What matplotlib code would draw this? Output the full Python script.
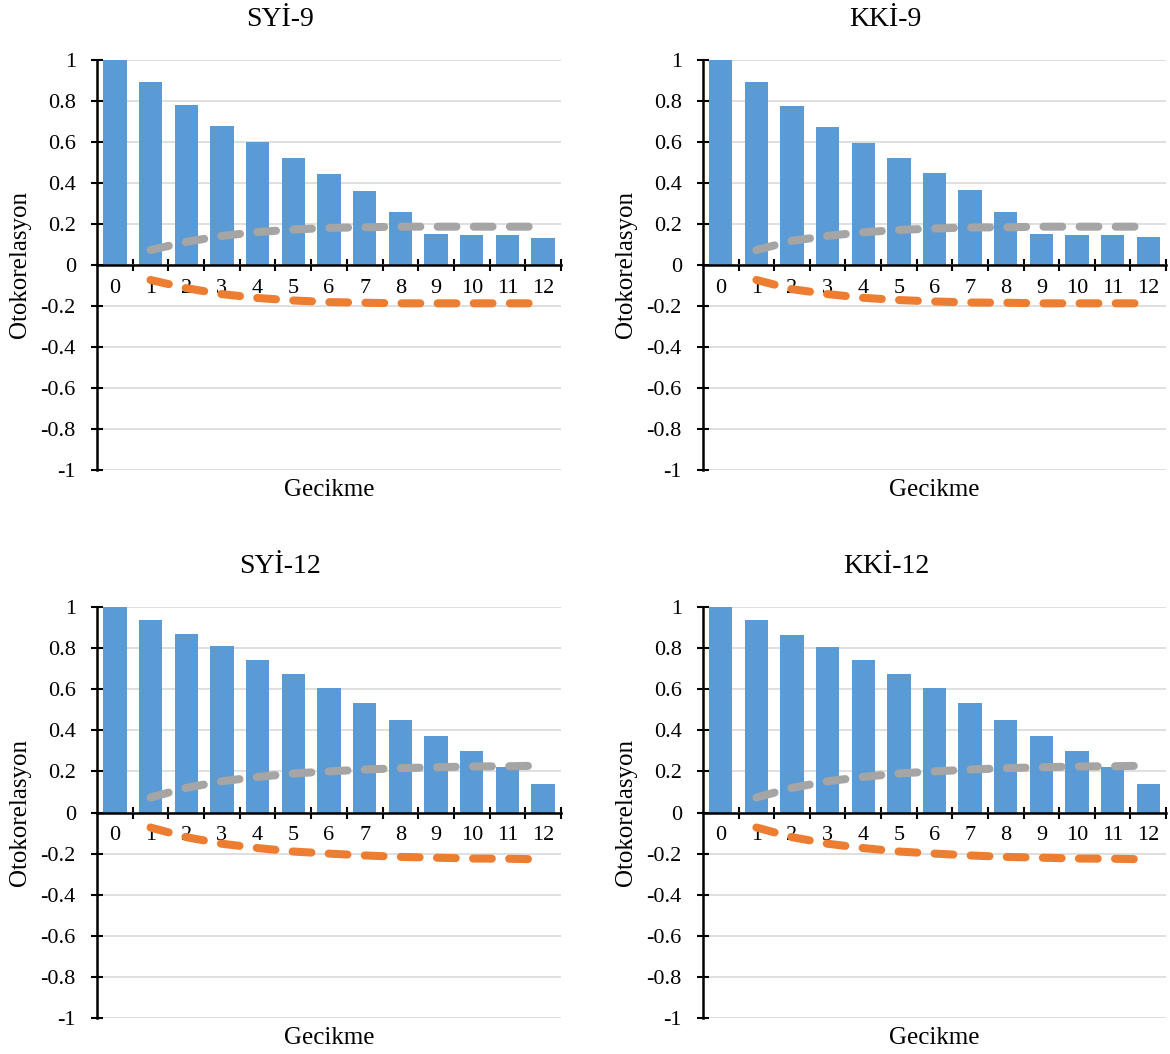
import numpy as np
import matplotlib
matplotlib.use("Agg")
import matplotlib.pyplot as plt

plt.rcParams["font.family"] = ["Liberation Serif", "DejaVu Serif"]
plt.rcParams["lines.scale_dashes"] = False

lags = list(range(13))
lag_labels = [str(k) for k in lags]
conf_lags = list(range(1, 13))

titles = ["SYİ-9", "KKİ-9", "SYİ-12", "KKİ-12"]

acf_syi9 = [1.0, 0.892, 0.780, 0.679, 0.598, 0.523, 0.444, 0.360, 0.257, 0.150, 0.145, 0.145, 0.134]
acf_kki9 = [1.0, 0.892, 0.774, 0.674, 0.593, 0.523, 0.449, 0.365, 0.257, 0.152, 0.145, 0.145, 0.136]
acf_syi12 = [1.0, 0.935, 0.870, 0.812, 0.742, 0.674, 0.605, 0.532, 0.452, 0.373, 0.300, 0.220, 0.138]
acf_kki12 = [1.0, 0.935, 0.863, 0.805, 0.742, 0.674, 0.605, 0.532, 0.452, 0.373, 0.300, 0.220, 0.138]

# upper confidence limits for lags 1..12 (lower limits are the negatives)
ci_syi9 = [0.073, 0.113, 0.142, 0.161, 0.173, 0.181, 0.184, 0.187, 0.187, 0.187, 0.187, 0.187]
ci_kki9 = [0.073, 0.118, 0.142, 0.160, 0.171, 0.178, 0.183, 0.184, 0.187, 0.187, 0.187, 0.187]
ci_syi12 = [0.073, 0.120, 0.152, 0.173, 0.190, 0.200, 0.209, 0.216, 0.220, 0.224, 0.225, 0.228]
ci_kki12 = [0.073, 0.120, 0.152, 0.173, 0.190, 0.200, 0.209, 0.216, 0.220, 0.224, 0.225, 0.228]

acfs = [acf_syi9, acf_kki9, acf_syi12, acf_kki12]
cis = [ci_syi9, ci_kki9, ci_syi12, ci_kki12]

bar_color = "#5B9BD5"
upper_color = "#A5A5A5"
lower_color = "#ED7D31"
dash = (13.5, 12.5)

W, H = 1170, 1054
fig = plt.figure(figsize=(W / 100, H / 100), dpi=100)

# plot areas in pixels: (left, top, right, bottom)
boxes = [(97, 60, 561, 470), (703, 60, 1166, 470),
         (97, 607, 561, 1018), (703, 607, 1166, 1018)]

for box, title, acf, ci in zip(boxes, titles, acfs, cis):
    l, t, r, b = box
    ax = fig.add_axes([l / W, 1 - b / H, (r - l) / W, (b - t) / H])
    ax.set_axisbelow(True)
    ax.bar(lags, acf, width=0.655, color=bar_color, zorder=2)

    ax.plot(conf_lags, ci, color=upper_color, lw=5.8,
            dashes=dash, dash_capstyle="round", zorder=3)
    ax.plot(conf_lags, [-v for v in ci], color=lower_color, lw=5.8,
            dashes=dash, dash_capstyle="round", zorder=3)

    ax.set_xlim(-0.5, 12.5)
    ax.set_ylim(-1, 1)
    ax.set_yticks(np.round(np.arange(-1, 1.01, 0.2), 1))
    ax.set_yticklabels(["-1", "-0.8", "-0.6", "-0.4", "-0.2", "0",
                        "0.2", "0.4", "0.6", "0.8", "1"])
    ax.yaxis.grid(True, color="#D9D9D9", lw=1.2)

    ax.set_xticks(np.arange(0.5, 13, 1))
    ax.set_xticklabels([])
    ax.set_xticks(lags, minor=True)
    ax.set_xticklabels(lag_labels, minor=True)
    ax.tick_params(axis="x", which="major", direction="inout", length=8.5, width=1.5)
    ax.tick_params(axis="x", which="minor", length=0, pad=10, labelsize=16)
    ax.tick_params(axis="y", direction="inout", length=8.5, width=1.5, pad=11, labelsize=16)

    for side in ("top", "right"):
        ax.spines[side].set_visible(False)
    ax.spines["bottom"].set_position(("data", 0))
    ax.spines["bottom"].set_linewidth(1.8)
    ax.spines["left"].set_linewidth(1.8)

    ax.text(0.395, 1 + 40 / (b - t), title, transform=ax.transAxes,
            ha="center", va="center", fontsize=20)
    ax.text(-77 / (r - l), 0.5, "Otokorelasyon", transform=ax.transAxes,
            ha="center", va="center", rotation=90, fontsize=18)
    ax.text(0.5, -20 / (b - t), "Gecikme", transform=ax.transAxes,
            ha="center", va="center", fontsize=18)

fig.savefig("out.png", dpi=100)
